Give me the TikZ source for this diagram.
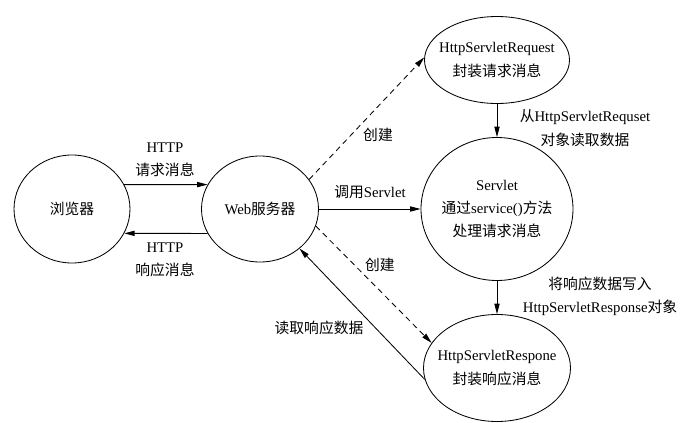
\documentclass[tikz,border=0pt]{standalone}
\usepackage{fontspec}
\setmainfont{Liberation Serif}
\newfontfamily\zh{Noto Sans CJK SC}
\usetikzlibrary{shapes.geometric, arrows.meta, positioning, calc}

\begin{document}
\begin{tikzpicture}[
  node distance=4.7cm,
  font={\fontsize{10.5}{16.5}\selectfont},
  blob/.style={ellipse, draw, semithick, inner sep=-1cm, align=center},
  lbl/.style={align=center},
  solidarrow/.style={-{Triangle[length=2.6mm,width=1.3mm]}, semithick},
  createarrow/.style={-{Triangle[length=2.6mm,width=1.3mm]}, semithick, dash pattern=on 4pt off 3pt}
]
\useasboundingbox (-1.8,-5.325) rectangle (15.475,5.225);

% Ellipses
\node[blob, minimum width=2.9cm, minimum height=2.7cm] (brw) {{\zh 浏览器}};
\node[blob, right of=brw, minimum width=2.925cm, minimum height=2.65cm] (web) {Web{\zh 服务器}};
\node[blob, right of=web, node distance=5.925cm, minimum width=3.8cm, minimum height=3.575cm] (srv) {Servlet\\{\zh 通过}service(){\zh 方法}\\{\zh 处理请求消息}};
\node[blob, above of=srv, node distance=3.725cm, minimum width=3.625cm, minimum height=2.175cm] (req) {HttpServletRequest\\{\zh 封装请求消息}};
\node[blob, below of=srv, node distance=3.975cm, minimum width=3.675cm, minimum height=2.675cm] (rsp) {HttpServletRespone\\{\zh 封装响应消息}};

% Connectors
\draw[solidarrow] (brw.25) -- (web.155);
\draw[solidarrow] (web.205) -- (brw.335);
\draw[solidarrow] (web) -- (srv);
\draw[createarrow] (web.31) -- (req.178);
\draw[createarrow] (web.343) -- (rsp.159);
\draw[solidarrow] (rsp.189) -- (web.315);
\draw[solidarrow] (req) -- (srv);
\draw[solidarrow] (srv) -- (rsp);

% Labels
\node[lbl] (reqmsg) at (2.325,1.225) {HTTP\\{\zh 请求消息}};
\node[lbl] (rspmsg) at (2.325,-1.275) {HTTP\\{\zh 响应消息}};
\node[lbl] (create1) at (7.65,1.85) {{\zh 创建}};
\node[lbl] (create2) at (7.7,-1.4) {{\zh 创建}};
\node[lbl] (call) at (7.45,0.425) {{\zh 调用}Servlet};
\node[lbl] (readreq) at (12.825,2.025) {{\zh 从}HttpServletRequset\\{\zh 对象读取数据}};
\node[lbl] (writersp) at (13.2,-2.175) {{\zh 将响应数据写入}\\HttpServletResponse{\zh 对象}};
\node[lbl] (readrsp) at (6.175,-2.975) {{\zh 读取响应数据}};

\end{tikzpicture}
\end{document}
